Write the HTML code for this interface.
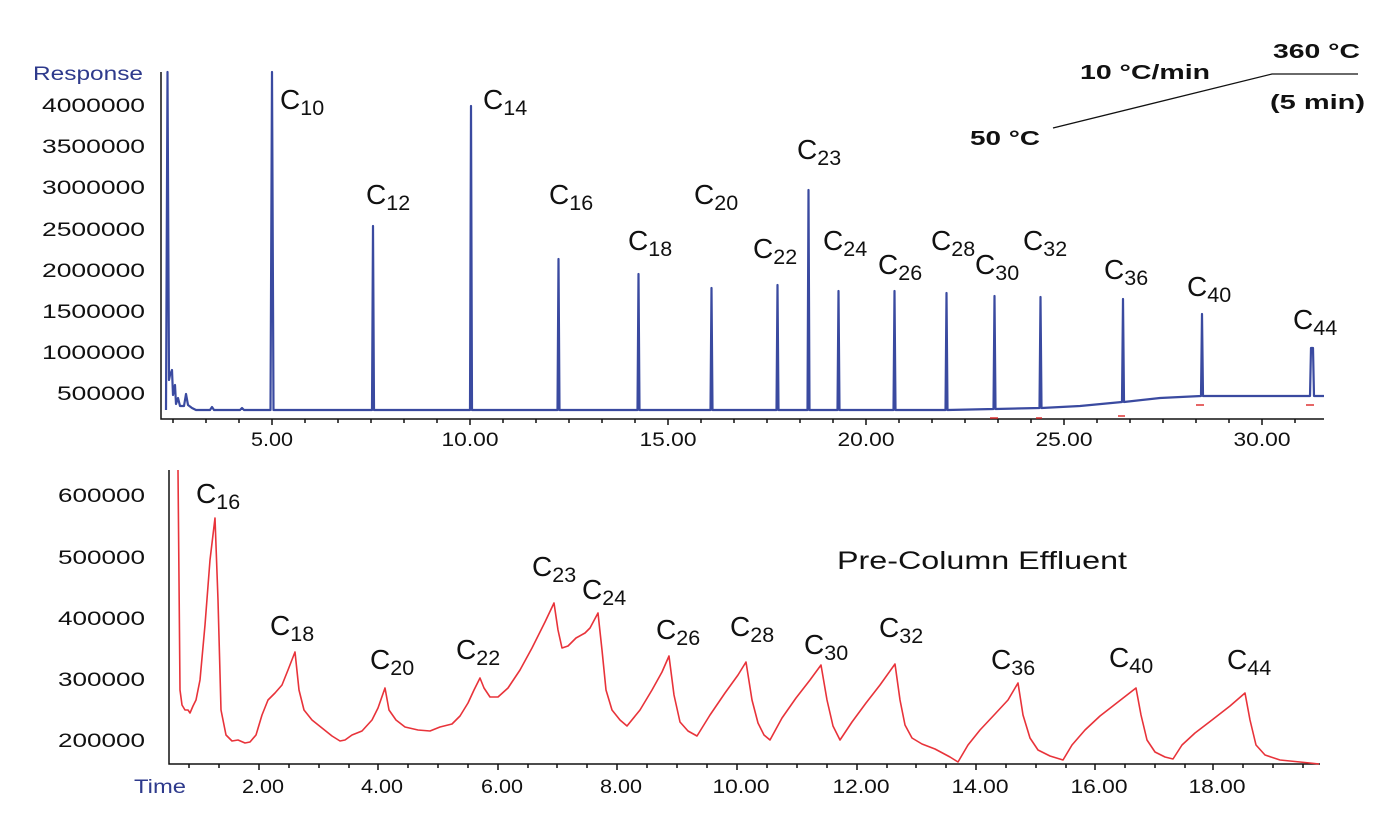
<!DOCTYPE html>
<html><head><meta charset="utf-8"><style>
html,body{margin:0;padding:0;background:#fff;}
svg{display:block;font-family:"Liberation Sans",Arial,sans-serif;}
.t{font-size:19.5px;fill:#111;}
.lab{font-size:28px;fill:#111;}
.sub{font-size:21.5px;}
</style></head><body>
<svg width="1383" height="813" viewBox="0 0 1383 813" xmlns="http://www.w3.org/2000/svg">
<!-- TOP PLOT -->
<text x="143" y="80" text-anchor="end" textLength="110" lengthAdjust="spacingAndGlyphs" style="font-size:19.5px;fill:#2e3a8c">Response</text>
<g class="t" text-anchor="end">
<text x="145" y="112" textLength="103" lengthAdjust="spacingAndGlyphs">4000000</text>
<text x="145" y="153" textLength="103" lengthAdjust="spacingAndGlyphs">3500000</text>
<text x="145" y="194" textLength="103" lengthAdjust="spacingAndGlyphs">3000000</text>
<text x="145" y="236" textLength="103" lengthAdjust="spacingAndGlyphs">2500000</text>
<text x="145" y="277" textLength="103" lengthAdjust="spacingAndGlyphs">2000000</text>
<text x="145" y="318" textLength="103" lengthAdjust="spacingAndGlyphs">1500000</text>
<text x="145" y="359" textLength="103" lengthAdjust="spacingAndGlyphs">1000000</text>
<text x="145" y="400" textLength="88" lengthAdjust="spacingAndGlyphs">500000</text>
</g>
<g stroke="#111" stroke-width="1.5" fill="none">
<path d="M161,72 V419 H1324"/>
<path d="M272,419v6M470,419v6M668,419v6M866,419v6M1064,419v6M1262,419v6"/>
<path d="M173,419v4M206,419v4M239,419v4M305,419v4M338,419v4M371,419v4M404,419v4M437,419v4M503,419v4M536,419v4M569,419v4M602,419v4M635,419v4M701,419v4M734,419v4M767,419v4M800,419v4M833,419v4M899,419v4M932,419v4M965,419v4M998,419v4M1031,419v4M1097,419v4M1130,419v4M1163,419v4M1196,419v4M1229,419v4M1295,419v4"/>
</g>
<g class="t" text-anchor="middle">
<text x="272" y="446" textLength="42" lengthAdjust="spacingAndGlyphs">5.00</text><text x="470" y="446" textLength="57" lengthAdjust="spacingAndGlyphs">10.00</text><text x="668" y="446" textLength="57" lengthAdjust="spacingAndGlyphs">15.00</text>
<text x="866" y="446" textLength="57" lengthAdjust="spacingAndGlyphs">20.00</text><text x="1064" y="446" textLength="57" lengthAdjust="spacingAndGlyphs">25.00</text><text x="1262" y="446" textLength="57" lengthAdjust="spacingAndGlyphs">30.00</text>
</g>
<path fill="none" stroke="#3a4aa0" stroke-width="2.2" stroke-linejoin="round" d="M166,410 L167.5,72 L169,380 L170,375 L172,370 L173,395 L175,385 L176,404 L178,398 L180,406 L184,406 L186,394 L188,405 L192,408 L196,410 L210,410 L212,407 L214,410 L240,410 L242,408 L244,410 L270.5,410 L272,72 L273.5,410 L372,410 L373,226 L374,410 L470,410 L471,106 L472,410 L557.5,410 L558.5,259 L559.5,410 L637.5,410 L638.5,274 L639.5,410 L710.5,410 L711.5,288 L712.5,410 L776.5,410 L777.5,285 L778.5,410 L807.5,410 L808.5,190 L809.5,410 L837.5,410 L838.5,291 L839.5,410 L893.5,410 L894.5,291 L895.5,410 L945.5,410 L946.5,293 L947.5,410 L993.5,409 L994.5,296 L995.5,409 L1039.5,408 L1040.5,297 L1041.5,408 L1080,406 L1122,402 L1123,299 L1124,402 L1160,398 L1201,396 L1202,314 L1203,396 L1310,396 L1311,348 L1313,348 L1314,396 L1324,396"/>
<g stroke="#d33" stroke-width="1.5">
<path d="M990,418h8M1036,418h6M1118,416h7M1196,405h8M1306,405h8"/>
</g>
<g class="lab">
<text x="280" y="109">C<tspan class="sub" dy="6">10</tspan></text>
<text x="366" y="204">C<tspan class="sub" dy="6">12</tspan></text>
<text x="483" y="109">C<tspan class="sub" dy="6">14</tspan></text>
<text x="549" y="204">C<tspan class="sub" dy="6">16</tspan></text>
<text x="628" y="250">C<tspan class="sub" dy="6">18</tspan></text>
<text x="694" y="204">C<tspan class="sub" dy="6">20</tspan></text>
<text x="753" y="258">C<tspan class="sub" dy="6">22</tspan></text>
<text x="797" y="159">C<tspan class="sub" dy="6">23</tspan></text>
<text x="823" y="250">C<tspan class="sub" dy="6">24</tspan></text>
<text x="878" y="274">C<tspan class="sub" dy="6">26</tspan></text>
<text x="931" y="250">C<tspan class="sub" dy="6">28</tspan></text>
<text x="975" y="274">C<tspan class="sub" dy="6">30</tspan></text>
<text x="1023" y="250">C<tspan class="sub" dy="6">32</tspan></text>
<text x="1104" y="279">C<tspan class="sub" dy="6">36</tspan></text>
<text x="1187" y="296">C<tspan class="sub" dy="6">40</tspan></text>
<text x="1293" y="329">C<tspan class="sub" dy="6">44</tspan></text>
</g>
<!-- temperature program -->
<path d="M1053,128 L1272,74 H1358" stroke="#111" stroke-width="1.3" fill="none"/>
<g style="font-size:20px;font-weight:bold;fill:#111">
<text x="970" y="145" textLength="70" lengthAdjust="spacingAndGlyphs">50 °C</text>
<text x="1080" y="79" textLength="130" lengthAdjust="spacingAndGlyphs">10 °C/min</text>
<text x="1273" y="58" textLength="87" lengthAdjust="spacingAndGlyphs">360 °C</text>
<text x="1270" y="109" textLength="95" lengthAdjust="spacingAndGlyphs">(5 min)</text>
</g>
<!-- BOTTOM PLOT -->
<g class="t" text-anchor="end">
<text x="145" y="502" textLength="87" lengthAdjust="spacingAndGlyphs">600000</text>
<text x="145" y="564" textLength="87" lengthAdjust="spacingAndGlyphs">500000</text>
<text x="145" y="625" textLength="87" lengthAdjust="spacingAndGlyphs">400000</text>
<text x="145" y="686" textLength="87" lengthAdjust="spacingAndGlyphs">300000</text>
<text x="145" y="747" textLength="87" lengthAdjust="spacingAndGlyphs">200000</text>
</g>
<text x="134" y="793" textLength="52" lengthAdjust="spacingAndGlyphs" style="font-size:19.5px;fill:#2e3a8c">Time</text>
<g stroke="#111" stroke-width="1.5" fill="none">
<path d="M169,470 V764 H1320"/>
<path d="M259,764v6M378,764v6M498,764v6M617,764v6M737,764v6M857,764v6M976,764v6M1095,764v6M1213,764v6"/>
<path d="M189,764v4M219,764v4M289,764v4M319,764v4M349,764v4M408,764v4M438,764v4M468,764v4M528,764v4M557,764v4M587,764v4M647,764v4M677,764v4M707,764v4M767,764v4M797,764v4M827,764v4M887,764v4M916,764v4M946,764v4M1006,764v4M1036,764v4M1066,764v4M1125,764v4M1155,764v4M1185,764v4M1243,764v4M1273,764v4M1303,764v4"/>
</g>
<g class="t" text-anchor="middle">
<text x="263" y="793" textLength="42" lengthAdjust="spacingAndGlyphs">2.00</text><text x="382" y="793" textLength="42" lengthAdjust="spacingAndGlyphs">4.00</text><text x="502" y="793" textLength="42" lengthAdjust="spacingAndGlyphs">6.00</text>
<text x="621" y="793" textLength="42" lengthAdjust="spacingAndGlyphs">8.00</text><text x="741" y="793" textLength="57" lengthAdjust="spacingAndGlyphs">10.00</text><text x="861" y="793" textLength="57" lengthAdjust="spacingAndGlyphs">12.00</text>
<text x="980" y="793" textLength="57" lengthAdjust="spacingAndGlyphs">14.00</text><text x="1099" y="793" textLength="57" lengthAdjust="spacingAndGlyphs">16.00</text><text x="1217" y="793" textLength="57" lengthAdjust="spacingAndGlyphs">18.00</text>
</g>
<path fill="none" stroke="#e8333a" stroke-width="1.6" stroke-linejoin="round" d="M178,470 L180,690 L182,705 L185,710 L188,710 L190,713 L193,706 L196,700 L200,680 L205,625 L210,560 L215,518 L218,600 L221,710 L226,735 L232,741 L238,740 L245,743 L250,742 L256,735 L262,715 L268,700 L275,693 L282,685 L288,670 L295,652 L299,690 L304,710 L312,720 L322,728 L332,736 L340,741 L345,740 L352,735 L362,731 L372,720 L378,708 L385,688 L389,710 L396,720 L405,727 L418,730 L430,731 L440,727 L452,724 L460,716 L468,703 L474,690 L480,678 L484,688 L490,697 L498,697 L508,688 L520,670 L532,648 L545,622 L554,603 L558,630 L562,648 L568,646 L576,638 L585,633 L590,628 L598,613 L602,650 L606,690 L612,710 L620,720 L627,726 L640,710 L652,690 L662,672 L669,656 L674,695 L680,722 L688,731 L697,736 L710,715 L725,693 L738,675 L746,662 L752,700 L758,723 L764,735 L770,740 L782,718 L796,698 L810,680 L821,665 L827,700 L833,726 L840,740 L852,722 L866,703 L880,685 L895,664 L900,700 L905,725 L912,738 L922,744 L935,749 L950,757 L958,762 L968,745 L980,730 L995,714 L1008,700 L1018,683 L1023,715 L1030,738 L1038,750 L1050,756 L1063,760 L1072,745 L1085,730 L1100,716 L1118,702 L1136,688 L1141,715 L1147,740 L1155,752 L1165,757 L1173,759 L1182,745 L1195,733 L1212,720 L1230,706 L1245,693 L1250,720 L1256,745 L1265,755 L1280,760 L1300,762 L1319,764"/>
<g class="lab">
<text x="196" y="503">C<tspan class="sub" dy="6">16</tspan></text>
<text x="270" y="635">C<tspan class="sub" dy="6">18</tspan></text>
<text x="370" y="669">C<tspan class="sub" dy="6">20</tspan></text>
<text x="456" y="659">C<tspan class="sub" dy="6">22</tspan></text>
<text x="532" y="576">C<tspan class="sub" dy="6">23</tspan></text>
<text x="582" y="599">C<tspan class="sub" dy="6">24</tspan></text>
<text x="656" y="639">C<tspan class="sub" dy="6">26</tspan></text>
<text x="730" y="636">C<tspan class="sub" dy="6">28</tspan></text>
<text x="804" y="654">C<tspan class="sub" dy="6">30</tspan></text>
<text x="879" y="637">C<tspan class="sub" dy="6">32</tspan></text>
<text x="991" y="669">C<tspan class="sub" dy="6">36</tspan></text>
<text x="1109" y="667">C<tspan class="sub" dy="6">40</tspan></text>
<text x="1227" y="669">C<tspan class="sub" dy="6">44</tspan></text>
</g>
<text x="837" y="569" textLength="290" lengthAdjust="spacingAndGlyphs" style="font-size:25px;fill:#111">Pre-Column Effluent</text>
</svg>
</body></html>
